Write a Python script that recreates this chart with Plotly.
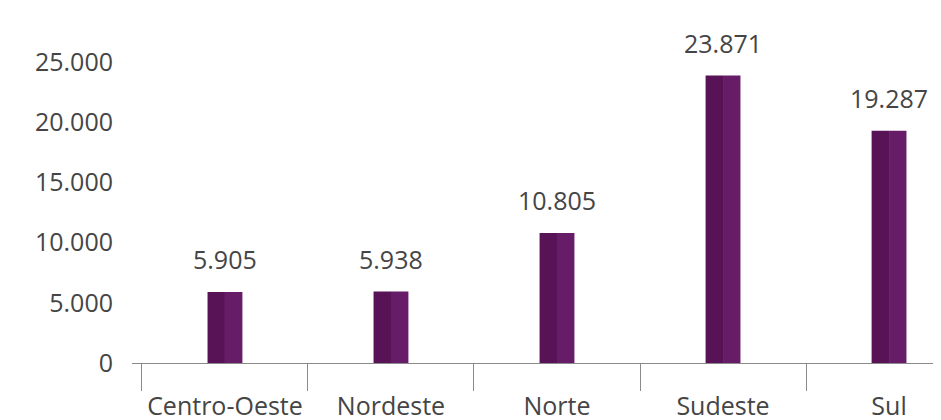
import plotly.graph_objects as go

categories = ["Centro-Oeste", "Nordeste", "Norte", "Sudeste", "Sul"]
values = [5905, 5938, 10805, 23871, 19287]
value_labels = ["5.905", "5.938", "10.805", "23.871", "19.287"]
tick_vals = [0, 5000, 10000, 15000, 20000, 25000]
tick_text = ["0", "5.000", "10.000", "15.000", "20.000", "25.000"]

FONT = "Open Sans"
TXT = "#454545"
FS = 25

fig = go.Figure()
fig.add_trace(go.Bar(x=categories, y=values, width=0.105, offset=-0.105,
                     marker=dict(color="#581357", line=dict(width=0)),
                     hoverinfo="skip"))
fig.add_trace(go.Bar(x=categories, y=values, width=0.105, offset=0,
                     marker=dict(color="#661c67", line=dict(width=0)),
                     hoverinfo="skip"))

for c, v, t in zip(categories, values, value_labels):
    fig.add_annotation(x=c, y=v, text=t, showarrow=False, yanchor="bottom",
                       yshift=14, font=dict(family=FONT, size=FS, color=TXT))

fig.update_layout(
    width=933, height=412,
    margin=dict(l=124, r=0, t=12, b=57),
    paper_bgcolor="white", plot_bgcolor="white",
    showlegend=False, barmode="overlay",
    font=dict(family=FONT, color=TXT, size=FS),
    xaxis=dict(type="category", range=[-0.560, 4.313], automargin=False,
               showline=True, linecolor="#8a8a8a", linewidth=1.3,
               ticks="outside", tickson="boundaries", ticklen=27,
               tickcolor="#8a8a8a", tickwidth=1.3, ticklabelstandoff=21,
               showgrid=False, zeroline=False,
               tickfont=dict(family=FONT, size=FS, color=TXT)),
    yaxis=dict(range=[0, 28490], tickvals=tick_vals, ticktext=tick_text,
               automargin=False,
               showgrid=False, zeroline=False, showline=False,
               ticks="", ticklabelstandoff=18,
               tickfont=dict(family=FONT, size=FS, color=TXT)),
)

fig.write_html("out.html")
